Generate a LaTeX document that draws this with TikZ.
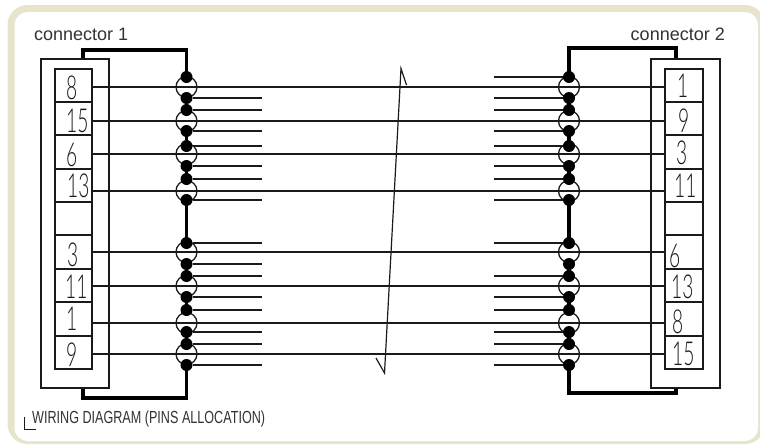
\documentclass[tikz,border=0pt]{standalone}
\usepackage{fontspec}
\usepackage{graphicx}
\usetikzlibrary{calc}
\setmainfont{Liberation Sans}
\newfontfamily\digitfont{Lato Light}
\definecolor{framebeige}{HTML}{E8E4CC}
\definecolor{inkc}{HTML}{1A1A1A}
\definecolor{textc}{HTML}{333333}
\tikzset{
  pinbox/.style={draw=inkc,line width=1.1pt,rectangle,inner sep=0pt,minimum width=37pt},
  shell/.style={draw=inkc,line width=1.3pt,rectangle,inner sep=0pt,minimum width=68pt,minimum height=329pt},
  digit/.style={anchor=base west,inner sep=0pt,text=inkc,font=\digitfont\fontsize{33pt}{33pt}\selectfont},
  wire/.style={draw=inkc,line width=1.2pt},
  stub/.style={draw=inkc,line width=1.6pt},
  bus/.style={draw=black,line width=3.4pt,line join=miter},
  ring/.style={draw=inkc,line width=1.3pt,circle,inner sep=0pt,minimum size=21pt},
  dot/.style={fill=black,circle,inner sep=0pt,minimum size=12pt},
  thinline/.style={draw=inkc,line width=0.7pt},
  caption/.style={inner sep=0pt,text=textc}
}
\newcommand{\dg}[1]{\scalebox{0.58}[1]{#1}}
\begin{document}
\begin{tikzpicture}[x=1pt,y=-1pt]
\useasboundingbox (0,0) rectangle (760,445);
\fill[framebeige,rounded corners=20pt] (7.5,5) rectangle (765,444);
\fill[white,rounded corners=13pt] (14.5,12) rectangle (758,441);
% shells
\node[shell] (shellL) at (75,223.5) {};
\node[shell,minimum width=69pt] (shellR) at (685.5,223.5) {};
% pin cells
\foreach \n/\t/\b in {1/69/102,2/102/135,3/135/169,4/169/202,5/202/235,6/235/269,7/269/302,8/302/336,9/336/369}{
  \node[pinbox,minimum height={(\b-\t)*1pt}] (cL\n) at (73.5,{(\t+\b)/2}) {};
  \node[pinbox,minimum width=38pt,minimum height={(\b-\t)*1pt}] (cR\n) at (684,{(\t+\b)/2}) {};
}
% digits
\foreach \n/\x/\y/\s in {1/66/99/8,2/66/132/15,3/66/166/6,4/67/197/13,6/67/266/3,7/65/298/11,8/66/330/1,9/66/366/9}{
  \node[digit] (dL\n) at (\x,\y) {\dg{\s}};
}
\foreach \n/\x/\y/\s in {1/677/97/1,2/678/132/9,3/676/164/3,4/674/197/11,6/669/267/6,7/671/298/13,8/672/333/8,9/672/365/15}{
  \node[digit] (dR\n) at (\x,\y) {\dg{\s}};
}
% through wires and rings
\foreach \n/\c/\y in {1/1/87,2/2/121,3/3/154,4/4/191,6/6/252,7/7/286,8/8/323,9/9/354}{
  \coordinate (wl\n) at (92,\y);
  \coordinate (wr\n) at (665,\y);
  \draw[wire] (wl\n) -- (wr\n);
  \node[ring] (ringL\n) at (186.5,\y) {};
  \node[ring] (ringR\n) at (569,\y) {};
}
% junction dots
\foreach \i/\y in {1/77,2/98,3/110,4/131,5/146,6/166,7/179,8/200,9/243,10/264,11/276,12/297,13/310,14/332,15/344,16/365}{
  \node[dot] (jL\i) at (186.5,\y) {};
  \node[dot] (jR\i) at (569,\y) {};
}
% spines
\draw[bus] (jL2.center) -- (jL3.center) (jL4.center) -- (jL5.center) (jL6.center) -- (jL7.center) (jL8.center) -- (jL9.center)
           (jL10.center) -- (jL11.center) (jL12.center) -- (jL13.center) (jL14.center) -- (jL15.center);
\draw[bus] (jR2.center) -- (jR3.center) (jR4.center) -- (jR5.center) (jR6.center) -- (jR7.center) (jR8.center) -- (jR9.center)
           (jR10.center) -- (jR11.center) (jR12.center) -- (jR13.center) (jR14.center) -- (jR15.center);
% shell to bus
\coordinate (tl) at (83,50);
\coordinate (bl) at (83,398);
\coordinate (tr) at (676,48);
\coordinate (br) at (676,393);
\draw[bus] (tl |- shellL.north) -- (tl) -| (jL1.center);
\draw[bus] (bl |- shellL.south) -- (bl) -| (jL16.center);
\draw[bus] (tr |- shellR.north) -- (tr) -| (jR1.center);
\draw[bus] (br |- shellR.south) -- (br) -| (jR16.center);
% stubs
\foreach \i in {2,...,16}{
  \coordinate (sl\i) at ($(jL\i)+(75.5,0)$);
  \draw[stub] (jL\i) -- (sl\i);
}
\foreach \i in {1,...,9,11,12,...,16}{
  \coordinate (sr\i) at ($(jR\i)+(-75,0)$);
  \draw[stub] (jR\i) -- (sr\i);
}
% break line
\coordinate (b1) at (406.5,85);
\coordinate (b2) at (401,68.5);
\coordinate (b3) at (384.5,373);
\coordinate (b4) at (376,358);
\draw[wire] (b1) -- (b2) -- (b3) -- (b4);
% corner mark
\coordinate (m1) at (24.5,417);
\coordinate (m2) at (24.5,429);
\coordinate (m3) at (36,429);
\draw[thinline] (m1) -- (m2) -- (m3);
% captions
\node[caption,anchor=base west] (capL) at (34,40) {\fontsize{18pt}{18pt}\selectfont connector 1};
\node[caption,anchor=base east] (capR) at (725,40) {\fontsize{18pt}{18pt}\selectfont connector 2};
\node[caption,anchor=base west] (capW) at (32,423) {\scalebox{0.72}[1]{\fontsize{17.5pt}{17.5pt}\selectfont WIRING DIAGRAM (PINS ALLOCATION)}};
\end{tikzpicture}
\end{document}
